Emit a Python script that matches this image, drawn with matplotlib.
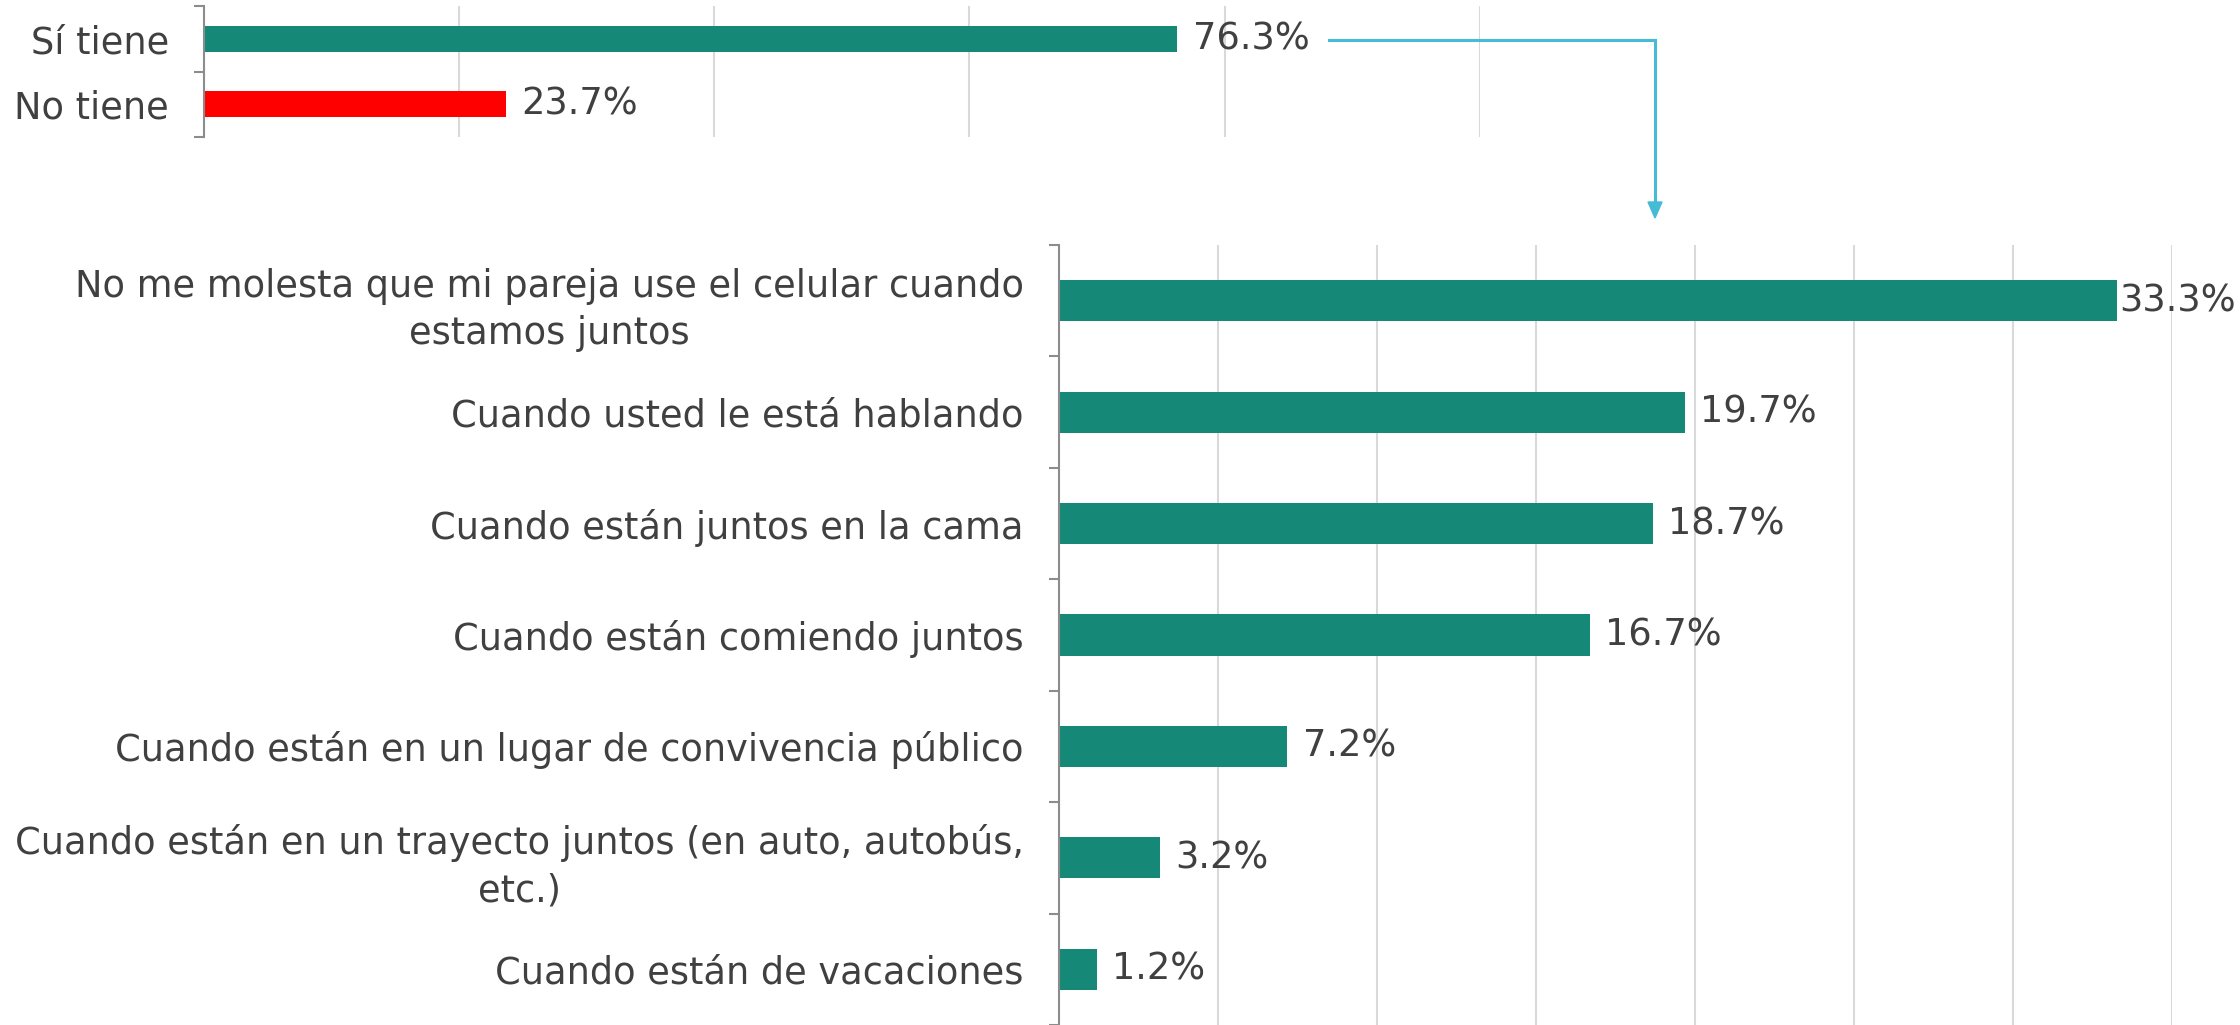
import matplotlib
matplotlib.use("Agg")
import matplotlib.pyplot as plt
import numpy as np
from matplotlib.lines import Line2D
from matplotlib.patches import Polygon

plt.rcParams['font.family'] = ['DejaVu Sans']

top_labels = ["Sí tiene", "No tiene"]
top_values = [76.3, 23.7]
top_colors = ["#168878", "#FF0000"]

cats = [
    "No me molesta que mi pareja use el celular cuando\nestamos juntos",
    "Cuando usted le está hablando",
    "Cuando están juntos en la cama",
    "Cuando están comiendo juntos",
    "Cuando están en un lugar de convivencia público",
    "Cuando están en un trayecto juntos (en auto, autobús,\netc.)",
    "Cuando están de vacaciones",
]
values = [33.3, 19.7, 18.7, 16.7, 7.2, 3.2, 1.2]

W, H = 2240, 1025
fig = plt.figure(figsize=(W / 100, H / 100), dpi=100)

TXT = "#404040"
GRID = "#d9d9d9"
SPINE = "#8c8c8c"
FS = 26.5


def style(ax, n):
    for s in ["top", "right", "bottom"]:
        ax.spines[s].set_visible(False)
    ax.spines["left"].set_color(SPINE)
    ax.spines["left"].set_linewidth(1.5)
    ax.set_ylim(n - 0.5, -0.5)
    ax.set_yticks(range(n))
    ax.tick_params(axis="y", which="major", length=0, pad=25, labelsize=FS, labelcolor=TXT)
    ax.set_yticks(np.arange(-0.5, n, 1.0), minor=True)
    ax.tick_params(axis="y", which="minor", length=7, width=1.5, color=SPINE)
    ax.tick_params(axis="x", length=0, labelbottom=False)
    ax.grid(axis="x", color=GRID, linewidth=1.5)
    ax.set_axisbelow(True)


# top chart
ax1 = fig.add_axes([203.6 / W, 1 - 137 / H, (1480 - 203.6) / W, 131 / H])
ax1.barh(range(2), top_values, height=0.4, color=top_colors)
ax1.set_xlim(0, 100)
ax1.set_xticks(np.arange(0, 101, 20))
style(ax1, 2)
ax1.set_yticklabels(top_labels)
for i, v in enumerate(top_values):
    ax1.annotate(f"{v:.1f}%", (v, i), xytext=(11, 0), textcoords="offset points",
                 va="center", ha="left", fontsize=FS, color=TXT)

# bottom chart
ax2 = fig.add_axes([1058.5 / W, 0, (2171.5 - 1058.5) / W, 780 / H])
ax2.barh(range(len(values)), values, height=0.37, color="#168878")
ax2.set_xlim(0, 35)
ax2.set_xticks(np.arange(0, 36, 5))
style(ax2, len(values))
ax2.set_yticklabels(cats, multialignment="center", linespacing=1.35)
for i, v in enumerate(values):
    off = 1 if v > 30 else 11
    ax2.annotate(f"{v:.1f}%", (v, i), xytext=(off, 0), textcoords="offset points",
                 va="center", ha="left", fontsize=FS, color=TXT)

# connector arrow
AC = "#45BBD6"
tf = fig.transFigure
fig.add_artist(Line2D([1329 / W, 1655 / W], [1 - 40 / H, 1 - 40 / H], color=AC, lw=2.2, transform=tf))
fig.add_artist(Line2D([1655 / W, 1655 / W], [1 - 40 / H, 1 - 205 / H], color=AC, lw=2.2, transform=tf))
fig.add_artist(Polygon([[1648 / W, 1 - 202 / H], [1662 / W, 1 - 202 / H], [1655 / W, 1 - 218 / H]],
                       closed=True, color=AC, transform=tf))

fig.savefig("out.png", dpi=100)
